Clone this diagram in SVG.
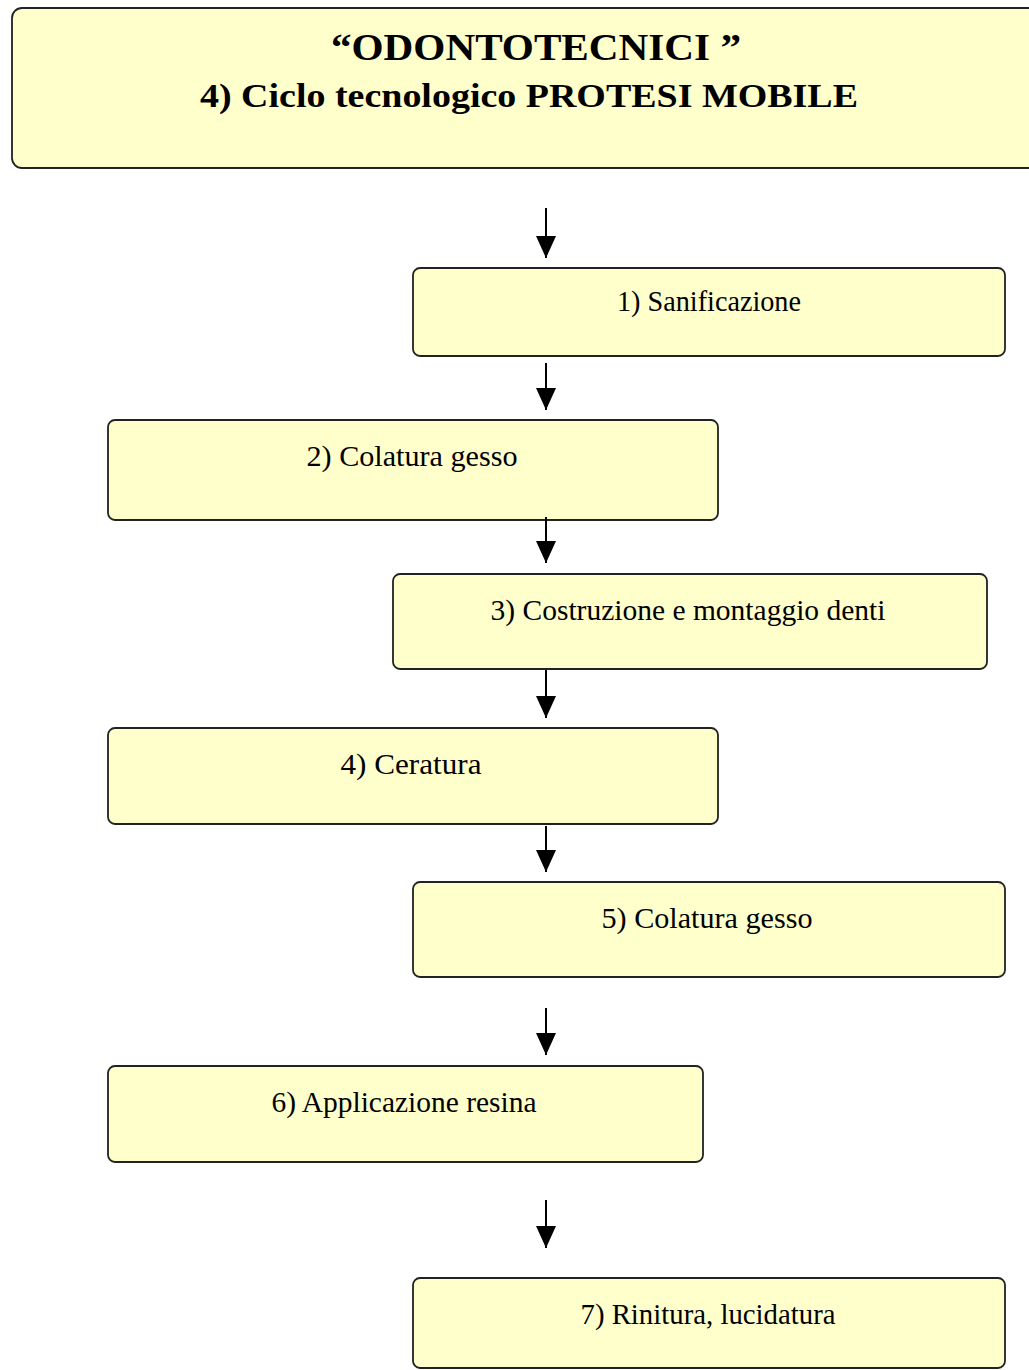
<svg xmlns="http://www.w3.org/2000/svg" width="1029" height="1370" viewBox="0 0 1029 1370">
  <style>
    .box { fill: #ffffcc; stroke: #222; stroke-width: 1.8; }
    .lbl { font-family: "Liberation Serif", "Times New Roman", serif; font-size: 29px; fill: #000; text-anchor: middle; }
    .ttl { font-family: "Liberation Serif", "Times New Roman", serif; font-weight: bold; fill: #000; text-anchor: middle; }
    .conn { stroke: #000; stroke-width: 2; fill: none; marker-end: url(#head); }
  </style>
  <defs>
    <marker id="head" viewBox="0 0 22 20" refX="22" refY="10" markerWidth="22" markerHeight="20" markerUnits="userSpaceOnUse" orient="auto">
      <path d="M0,0 L22,10 L0,20 Z" fill="#000"/>
    </marker>
  </defs>

  <!-- heading panel -->
  <g id="title">
    <rect class="box" x="12" y="8" width="1040" height="160" rx="10" ry="10"/>
    <text class="ttl" x="536" y="60" font-size="38" textLength="410" lengthAdjust="spacingAndGlyphs">“ODONTOTECNICI ”</text>
    <text class="ttl" x="529" y="107" font-size="33" textLength="658" lengthAdjust="spacingAndGlyphs">4) Ciclo tecnologico PROTESI MOBILE</text>
  </g>

  <!-- process steps -->
  <g id="step1">
    <rect class="box" x="413" y="268" width="592" height="88" rx="7" ry="7"/>
    <text class="lbl" x="709" y="311" textLength="184" lengthAdjust="spacingAndGlyphs">1) Sanificazione</text>
  </g>
  <g id="step2">
    <rect class="box" x="108" y="420" width="610" height="100" rx="7" ry="7"/>
    <text class="lbl" x="412" y="466" textLength="211" lengthAdjust="spacingAndGlyphs">2) Colatura gesso</text>
  </g>
  <g id="step3">
    <rect class="box" x="393" y="574" width="594" height="95" rx="7" ry="7"/>
    <text class="lbl" x="688" y="620" textLength="395" lengthAdjust="spacingAndGlyphs">3) Costruzione e montaggio denti</text>
  </g>
  <g id="step4">
    <rect class="box" x="108" y="728" width="610" height="96" rx="7" ry="7"/>
    <text class="lbl" x="411" y="774" textLength="141" lengthAdjust="spacingAndGlyphs">4) Ceratura</text>
  </g>
  <g id="step5">
    <rect class="box" x="413" y="882" width="592" height="95" rx="7" ry="7"/>
    <text class="lbl" x="707" y="928" textLength="211" lengthAdjust="spacingAndGlyphs">5) Colatura gesso</text>
  </g>
  <g id="step6">
    <rect class="box" x="108" y="1066" width="595" height="96" rx="7" ry="7"/>
    <text class="lbl" x="404" y="1112" textLength="265" lengthAdjust="spacingAndGlyphs">6) Applicazione resina</text>
  </g>
  <g id="step7">
    <rect class="box" x="413" y="1278" width="592" height="90" rx="7" ry="7"/>
    <text class="lbl" x="708" y="1324" textLength="255" lengthAdjust="spacingAndGlyphs">7) Rinitura, lucidatura</text>
  </g>

  <!-- flow arrows -->
  <g id="connectors">
    <line class="conn" x1="546" y1="208" x2="546" y2="258"/>
    <line class="conn" x1="546" y1="363" x2="546" y2="410"/>
    <line class="conn" x1="546" y1="517" x2="546" y2="563"/>
    <line class="conn" x1="546" y1="670" x2="546" y2="718"/>
    <line class="conn" x1="546" y1="826" x2="546" y2="872"/>
    <line class="conn" x1="546" y1="1008" x2="546" y2="1055"/>
    <line class="conn" x1="546" y1="1200" x2="546" y2="1248"/>
  </g>
</svg>
